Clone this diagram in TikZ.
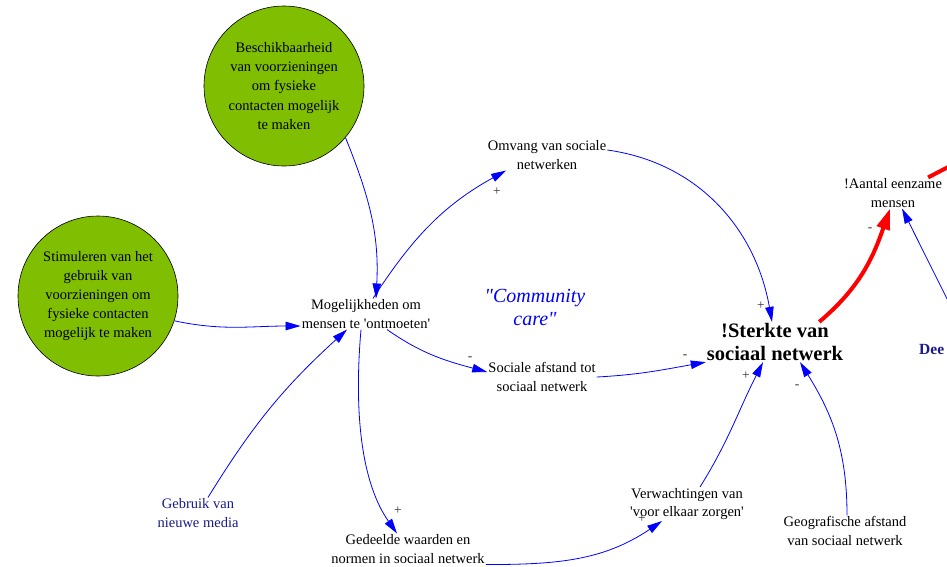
\documentclass[tikz,border=0pt]{standalone}
\usepackage{fontspec}
\setmainfont{Liberation Serif}
\usetikzlibrary{arrows.meta}

\definecolor{verde}{RGB}{127,190,0}
\definecolor{marino}{RGB}{25,25,135}

\tikzset{
  var/.style={align=center,inner sep=1pt,font=\fontsize{14.5}{18.5}\selectfont},
  factor/.style={circle,draw=black,line width=0.6pt,fill=verde,minimum size=160pt,
    inner sep=0pt,align=center,font=\fontsize{14.5}{19.2}\selectfont},
  flecha/.style={draw=blue,line width=0.8pt,-{Triangle[length=15pt,width=8.5pt]}},
  flecharoja/.style={draw=red,line width=4pt,-{Triangle[length=21pt,width=13pt]}},
  signo/.style={text=black!80,inner sep=0pt,font=\fontsize{13.5}{13.5}\selectfont}
}

\begin{document}
\begin{tikzpicture}[x=1pt,y=1pt]
        % Paso 1: Fija el marco del dibujo
        \useasboundingbox (0,0) rectangle (947,-566);
        \clip (0,0) rectangle (947,-566);

        % Paso 2: Dibuja los factores externos
        \node[factor] (Bs) at (284,-86) {Beschikbaarheid\\van voorzieningen\\om fysieke\\contacten mogelijk\\te maken};
        \node[factor] (Sm) at (98,-296) {Stimuleren van het\\gebruik van\\voorzieningen om\\fysieke contacten\\mogelijk te maken};

        % Paso 3: Coloca las variables
        \node[var] (M) at (366,-314) {Mogelijkheden om\\mensen te \textquotesingle ontmoeten\textquotesingle};
        \node[var] (O) at (547,-155) {Omvang van sociale\\netwerken};
        \node[var] (SA) at (542,-377) {Sociale afstand tot\\sociaal netwerk};
        \node[var] (AE) at (893,-193) {!Aantal eenzame\\mensen};
        \node[var] (V) at (687,-504) {Verwachtingen van\\\textquotesingle voor elkaar zorgen\textquotesingle};
        \node[var] (GA) at (845,-531) {Geografische afstand\\van sociaal netwerk};
        \node[var] (GW) at (408,-549) {Gedeelde waarden en\\normen in sociaal netwerk};
        \node[var,text=marino] (GM) at (198,-513) {Gebruik van\\nieuwe media};
        \node[align=center,inner sep=1pt,font=\fontsize{20.5}{23.5}\selectfont\bfseries] (ST) at (775,-342) {!Sterkte van\\sociaal netwerk};
        \node[align=center,inner sep=0pt,text=blue,font=\fontsize{20}{23}\selectfont\itshape] (CC) at (535,-307) {\textquotedbl Community\\care\textquotedbl};
        \node[anchor=west,inner sep=0pt,text=marino,font=\fontsize{15.5}{18}\selectfont\bfseries] (D) at (919,-349) {Dee};

        % Paso 4: Puntos fuera del marco
        \coordinate (R) at (1000,-140);
        \coordinate (Q) at (970,-345);

        % Paso 5: Dibuja las relaciones
        \draw[flecha] (Bs.-40) to[out=-68,in=87] ([xshift=10pt]M.north);
        \draw[flecha] (Sm.-18) to[out=-12,in=180] ([yshift=-12pt]M.west);
        \draw[flecha] ([xshift=10pt]GM.north) to[bend left=8] ([xshift=-19pt]M.south);
        \draw[flecha] ([xshift=7pt]M.north) to[out=57,in=-151] ([xshift=-41pt]O.south);
        \draw[flecha] ([yshift=5pt]O.east) to[out=-8,in=100] ([xshift=-3pt]ST.north);
        \draw[flecha] ([xshift=21pt]M.south) to[out=-35,in=165] ([yshift=5pt]SA.west);
        \draw[flecha] (SA.east) to[out=3,in=190] (ST.south west);
        \draw[flecha] ([xshift=-5pt]M.south) to[out=-95,in=125,looseness=0.85] ([xshift=-11pt]GW.north);
        \draw[flecha] (GW.south east) to[out=0,in=-146] ([xshift=-25pt]V.south);
        \draw[flecha] ([xshift=13pt]V.north) to[out=58,in=-117] ([xshift=-12pt]ST.south);
        \draw[flecha] ([xshift=2pt]GA.north) to[out=90,in=-58] ([xshift=25pt]ST.south);
        \draw[flecha] (Q) -- ([xshift=9pt]AE.south);
        \draw[flecharoja] ([xshift=-25pt]ST.north east) to[out=40,in=-109] ([xshift=-3pt]AE.south);
        \draw[draw=red,line width=4pt] ([xshift=-15pt]AE.north east) -- (R);

        % Paso 6: Agrega los signos
        \node[signo] (p1) at (497,-192) {+};
        \node[signo] (p2) at (761,-306) {+};
        \node[signo] (p3) at (746,-376) {+};
        \node[signo] (p4) at (398,-511) {+};
        \node[signo] (p5) at (642,-519) {+};
        \node[signo] (m1) at (470,-359) {-};
        \node[signo] (m2) at (685,-357) {-};
        \node[signo] (m3) at (797,-387) {-};
        \node[signo] (m4) at (870,-230) {-};
    \end{tikzpicture}
\end{document}
